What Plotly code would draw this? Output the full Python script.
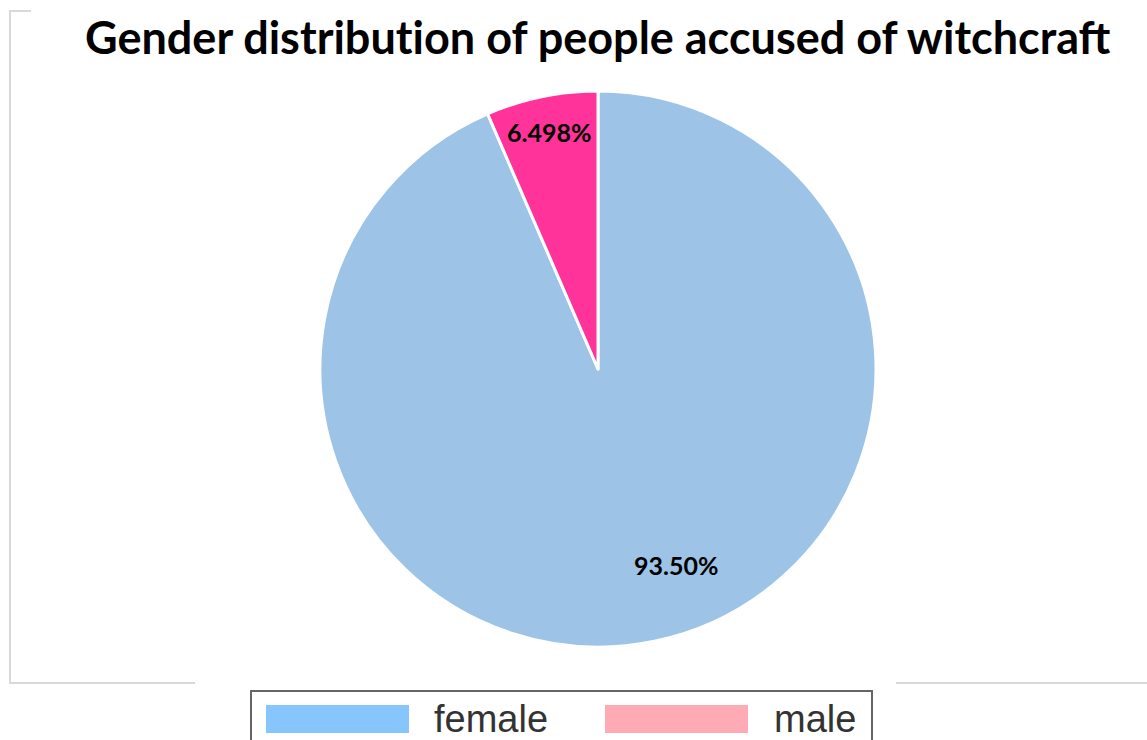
import math
import plotly.graph_objects as go

# Share of accused people by gender (percent)
genders = ["female", "male"]
shares = [93.50, 6.498]
label_texts = ["93.50%", "6.498%"]
slice_colors = ["#9dc3e6", "#ff3399"]
legend_order = ["female", "male"]
legend_colors = {"female": "#87c6fc", "male": "#ffabb5"}

W, H = 1147, 740


def px(x):
    return x / W


def py(y):
    return 1 - y / H


# Pie geometry in pixels
cx, cy, R = 598, 369, 278

fig = go.Figure()
fig.add_trace(go.Pie(
    labels=genders,
    values=shares,
    sort=False,
    direction="clockwise",
    rotation=0,
    marker=dict(colors=slice_colors, line=dict(color="white", width=3)),
    textinfo="none",
    hoverinfo="label+percent",
    showlegend=False,
    domain=dict(x=[px(cx - R), px(cx + R)], y=[py(cy + R), py(cy - R)]),
))

# Percentage labels placed along each slice's angle (slices run clockwise from 12 o'clock)
total = sum(shares)
start = 90.0
radial = {"male": 0.87, "female": 0.76}
angle_shift = {"male": 0.0, "female": 10.0}
annotations = []
for g, v, t in zip(genders, shares, label_texts):
    span = v / total * 360
    mid = start - span / 2 + angle_shift[g]
    start -= span
    r = R * radial[g]
    lx = cx + r * math.cos(math.radians(mid))
    ly = cy - r * math.sin(math.radians(mid))
    annotations.append(dict(
        x=px(lx), y=py(ly), xref="paper", yref="paper",
        text=f"<b>{t}</b>", showarrow=False,
        font=dict(family="Lato, Open Sans, sans-serif", size=25, color="black"),
        xanchor="center", yanchor="middle",
    ))

# Title ("t" set in its own font run so "ti" is not joined into a ligature)
annotations.append(dict(
    x=px(598), y=py(37), xref="paper", yref="paper",
    text=("<b>Gender distribu<span style=\"font-family:'Lato', sans-serif\">t</span>ion "
          "of people accused of witchcraft</b>"),
    showarrow=False,
    font=dict(family="Lato, Open Sans, sans-serif", size=45, color="black"),
    xanchor="center", yanchor="middle",
))

shapes = []
frame = dict(color="#d9d9d9", width=2)
# Chart frame (partially covered by the legend)
shapes.append(dict(type="line", xref="paper", yref="paper",
                   x0=px(10), y0=py(11), x1=px(10), y1=py(683), line=frame))
shapes.append(dict(type="line", xref="paper", yref="paper",
                   x0=px(9), y0=py(11), x1=px(31), y1=py(11), line=frame))
shapes.append(dict(type="line", xref="paper", yref="paper",
                   x0=px(9), y0=py(683), x1=px(195), y1=py(683), line=frame))
shapes.append(dict(type="line", xref="paper", yref="paper",
                   x0=px(896), y0=py(683), x1=px(W + 5), y1=py(683), line=frame))

# Legend box
shapes.append(dict(type="rect", xref="paper", yref="paper",
                   x0=px(251), y0=py(691), x1=px(872), y1=py(760),
                   line=dict(color="#666666", width=2), fillcolor="white"))

swatch_x = {"female": 266, "male": 605}
text_x = {"female": 432, "male": 772}
for g in legend_order:
    x0 = swatch_x[g]
    shapes.append(dict(type="rect", xref="paper", yref="paper",
                       x0=px(x0), y0=py(705), x1=px(x0 + 143), y1=py(733),
                       line=dict(width=0), fillcolor=legend_colors[g]))
    annotations.append(dict(
        x=px(text_x[g]), y=py(719), xref="paper", yref="paper",
        text=g, showarrow=False,
        font=dict(family="Liberation Sans, Arial, sans-serif", size=38, color="#333333"),
        xanchor="left", yanchor="middle",
    ))

fig.update_layout(
    width=W, height=H,
    margin=dict(l=0, r=0, t=0, b=0),
    paper_bgcolor="white",
    plot_bgcolor="white",
    annotations=annotations,
    shapes=shapes,
)

fig.write_html("out.html")
